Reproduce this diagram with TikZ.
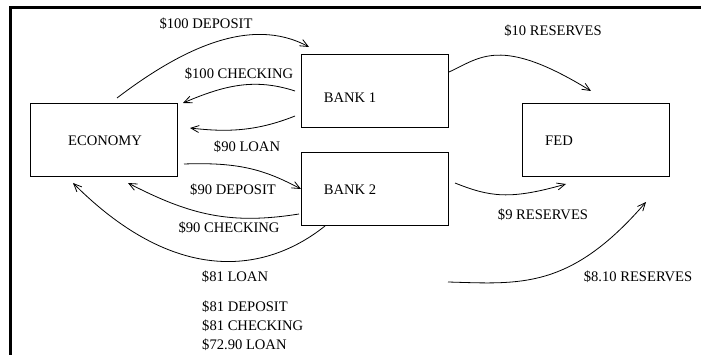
\documentclass[tikz,border=0pt]{standalone}
\usepackage{fontspec}
\setmainfont{Liberation Serif}
\usetikzlibrary{arrows.meta}
\begin{document}
\begin{tikzpicture}[x=1pt,y=-1pt,
  box/.style={draw,line width=0.9pt,minimum width=147pt,minimum height=73pt,inner sep=0pt},
  lbl/.style={font=\fontsize{14.6}{17}\selectfont,inner sep=0pt},
  flow/.style={line width=0.8pt,-{Straight Barb[length=8pt,width=7pt,line width=0.8pt]}}]
\useasboundingbox (0,0) rectangle (701,355);
\draw[line width=3pt] (10.3,355) -- (10.3,7.3) -- (701,7.3);
% boxes
\node[box] (eco) at (104,140) {};
\node[box] (b1) at (374.5,90.5) {};
\node[box] (b2) at (374.5,189) {};
\node[box] (fed) at (595.5,140) {};
\node[lbl] (teco) at (105,141) {ECONOMY};
\node[lbl] (tb1) at (350,98) {BANK 1};
\node[lbl] (tb2) at (350,190) {BANK 2};
\node[lbl] (tfed) at (559,141) {FED};
% connector coordinates
\coordinate (d1s) at (117,98);
\coordinate (d1e) at (309,47);
\coordinate (c1s) at (295,91);
\coordinate (c1e) at (183,103);
\coordinate (l1s) at (295,116);
\coordinate (l1e) at (190,128);
\coordinate (d2s) at (184,164);
\coordinate (d2e) at (301,189);
\coordinate (c2s) at (299,214);
\coordinate (c2e) at (128,183);
\coordinate (l2s) at (325,226);
\coordinate (l2e) at (73,183);
\coordinate (r1s) at (449,72);
\coordinate (r1e) at (591,91);
\coordinate (r2s) at (455,183);
\coordinate (r2e) at (566,184);
\coordinate (r3s) at (448,282);
\coordinate (r3e) at (646,202);
% connectors
\draw[flow] (d1s) .. controls (180,50) and (250,15) .. (d1e);
\draw[flow] (c1s) .. controls (255,78) and (225,85) .. (c1e);
\draw[flow] (l1s) .. controls (255,132) and (225,132) .. (l1e);
\draw[flow] (d2s) .. controls (240,162) and (265,170) .. (d2e);
\draw[flow] (c2s) .. controls (230,225) and (190,215) .. (c2e);
\draw[flow] (l2s) .. controls (270,270) and (180,290) .. (l2e);
\draw[flow] (r1s) .. controls (480,58) and (500,35) .. (r1e);
\draw[flow] (r2s) .. controls (490,197) and (510,200) .. (r2e);
\draw[flow] (r3s) .. controls (520,284) and (570,290) .. (r3e);
% labels
\node[lbl] (ld1) at (206,24) {\$100 DEPOSIT};
\node[lbl] (lc1) at (239,74) {\$100 CHECKING};
\node[lbl] (ll1) at (247,147) {\$90 LOAN};
\node[lbl] (ld2) at (233,190) {\$90 DEPOSIT};
\node[lbl] (lc2) at (229,228) {\$90 CHECKING};
\node[lbl] (ll2) at (235,277) {\$81 LOAN};
\node[lbl,anchor=west,align=left,font=\fontsize{14.6}{19}\selectfont] (blk) at (202,326) {\$81 DEPOSIT\\\$81 CHECKING\\\$72.90 LOAN};
\node[lbl] (lr1) at (553,31) {\$10 RESERVES};
\node[lbl] (lr2) at (543,215) {\$9 RESERVES};
\node[lbl] (lr3) at (638,277) {\$8.10 RESERVES};
\end{tikzpicture}
\end{document}
